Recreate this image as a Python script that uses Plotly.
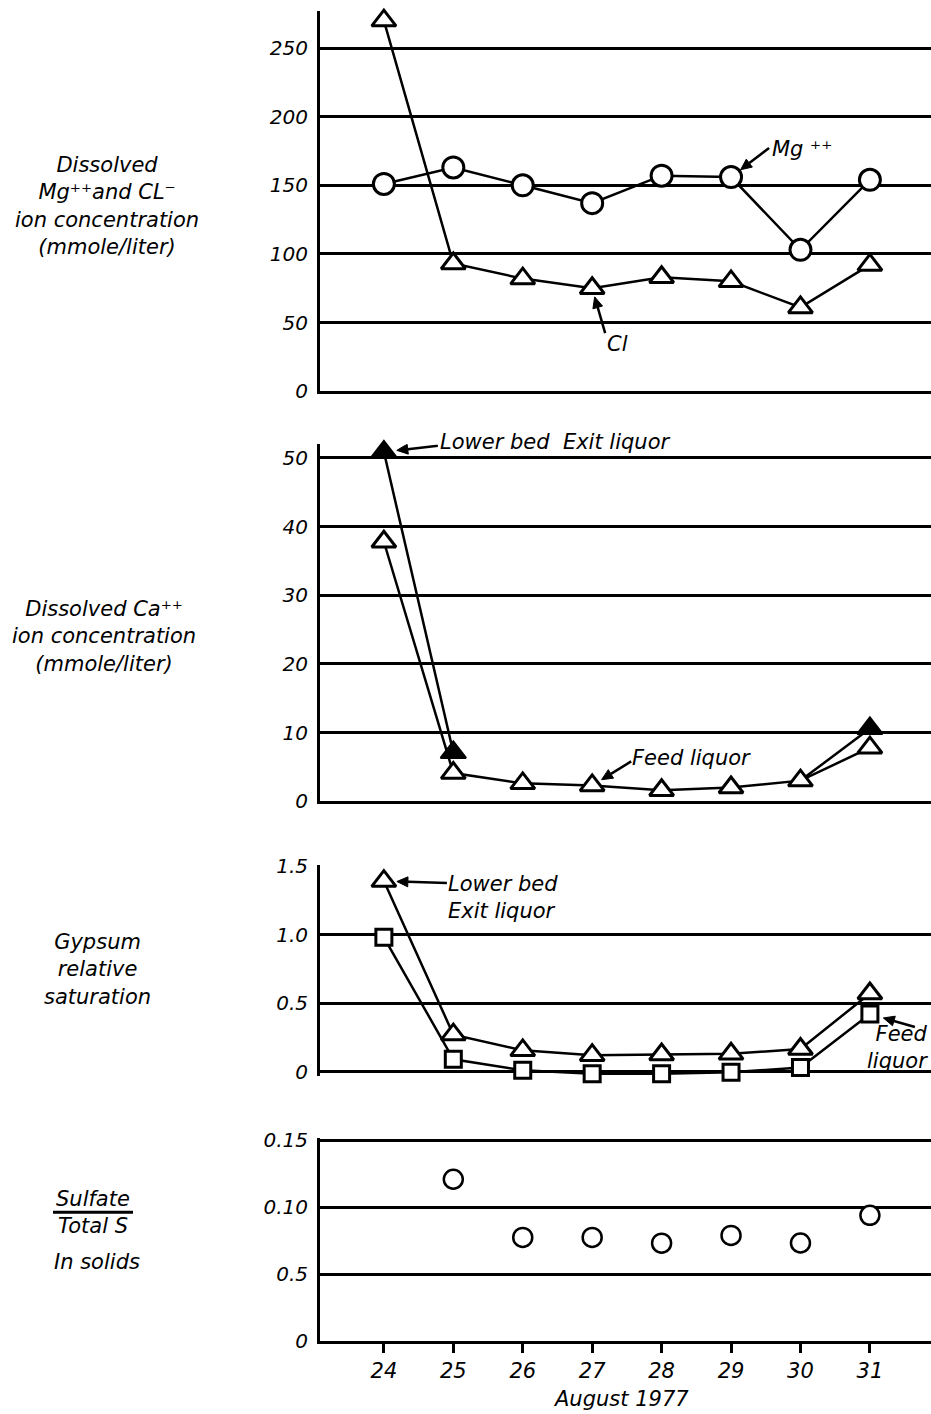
import math
import plotly.graph_objects as go

# ---------------- data ----------------
days = [24, 25, 26, 27, 28, 29, 30, 31]
day_labels = ["24", "25", "26", "27", "28", "29", "30", "31"]

mg_conc = [151, 163, 150, 137, 157, 156, 103, 154]
cl_conc = [270, 93, 82, 75, 83, 80, 61, 92]

ca_feed = [37.8, 4.1, 2.6, 2.3, 1.6, 2.0, 3.0, 7.8]
ca_exit = [50.9, 7.1, None, None, None, None, 3.0, 10.6]

gyp_exit = [1.39, 0.27, 0.155, 0.12, 0.125, 0.13, 0.165, 0.57]
gyp_feed = [0.98, 0.09, 0.01, -0.015, -0.015, -0.005, 0.03, 0.42]

sulfate_ratio = [None, 0.121, 0.0775, 0.0775, 0.0732, 0.079, 0.0733, 0.094]

p1_tickvals = [0, 50, 100, 150, 200, 250]
p1_ticktext = ["0", "50", "100", "150", "200", "250"]
p2_tickvals = [0, 10, 20, 30, 40, 50]
p2_ticktext = ["0", "10", "20", "30", "40", "50"]
p3_tickvals = [0, 0.5, 1.0, 1.5]
p3_ticktext = ["0", "0.5", "1.0", "1.5"]
p4_tickvals = [0, 0.05, 0.10, 0.15]
p4_ticktext = ["0", "0.5", "0.10", "0.15"]

# ---------------- layout geometry ----------------
W, H = 931, 1414
L, R, T, B = 320, 0, 8, 73
plot_w = W - L - R
plot_h = H - T - B
FONT = "DejaVu Sans"


def dom(top_px, bot_px):
    return [(H - B - bot_px) / plot_h, (H - B - top_px) / plot_h]


def px_x(px):
    return (px - L) / plot_w


def px_y(py):
    return (H - B - py) / plot_h


fig = go.Figure()

line_style = dict(color="black", width=2.5)


def open_marker(symbol, size):
    return dict(symbol=symbol, size=size, color="white",
                line=dict(color="black", width=3))


# Panel 1
fig.add_trace(go.Scatter(x=days, y=cl_conc, mode="lines+markers", line=line_style,
                         marker=open_marker("triangle-up", 21), cliponaxis=False,
                         xaxis="x", yaxis="y", showlegend=False))
fig.add_trace(go.Scatter(x=days, y=mg_conc, mode="lines+markers", line=line_style,
                         marker=open_marker("circle", 21), cliponaxis=False,
                         xaxis="x", yaxis="y", showlegend=False))

# Panel 2
exit_opacity = [1 if (v is not None and i != 6) else 0 for i, v in enumerate(ca_exit)]
fig.add_trace(go.Scatter(x=days, y=ca_exit, mode="lines+markers", line=line_style,
                         marker=dict(symbol="triangle-up", size=22, color="black",
                                     opacity=exit_opacity,
                                     line=dict(color="black", width=2)),
                         connectgaps=False, cliponaxis=False,
                         xaxis="x2", yaxis="y2", showlegend=False))
fig.add_trace(go.Scatter(x=days, y=ca_feed, mode="lines+markers", line=line_style,
                         marker=open_marker("triangle-up", 21), cliponaxis=False,
                         xaxis="x2", yaxis="y2", showlegend=False))

# Panel 3
fig.add_trace(go.Scatter(x=days, y=gyp_feed, mode="lines+markers", line=line_style,
                         marker=open_marker("square", 16), cliponaxis=False,
                         xaxis="x3", yaxis="y3", showlegend=False))
fig.add_trace(go.Scatter(x=days, y=gyp_exit, mode="lines+markers", line=line_style,
                         marker=open_marker("triangle-up", 21), cliponaxis=False,
                         xaxis="x3", yaxis="y3", showlegend=False))

# Panel 4
fig.add_trace(go.Scatter(x=days, y=sulfate_ratio, mode="markers",
                         marker=dict(symbol="circle", size=19, color="white",
                                     line=dict(color="black", width=2.5)),
                         cliponaxis=False, xaxis="x4", yaxis="y4", showlegend=False))

tickfont = dict(family=FONT, size=20, color="black", style="italic")
xrange = [23.08, 31.88]


def xaxis_cfg(anchor, labels, line=True):
    cfg = dict(domain=[0, 1], range=xrange, anchor=anchor, showline=line,
               linecolor="black", linewidth=3, showgrid=False, zeroline=False,
               fixedrange=True)
    if labels:
        cfg.update(tickvals=days, ticktext=day_labels, ticks="outside",
                   ticklen=9, tickwidth=2.5, tickcolor="black",
                   tickfont=dict(family=FONT, size=21, color="black", style="italic"))
    else:
        cfg.update(showticklabels=False, ticks="")
    return cfg


def yaxis_cfg(anchor, domain, rng, tv, tt):
    return dict(domain=domain, range=rng, anchor=anchor, showline=True,
                linecolor="black", linewidth=3, showgrid=True, gridcolor="black",
                gridwidth=3, zeroline=False, tickvals=tv, ticktext=tt,
                ticks="outside", ticklen=5, tickcolor="rgba(0,0,0,0)",
                tickfont=tickfont, fixedrange=True)


# panel 2: 0 at 800px, 6.88 px/unit ; panel 3: 0 at 1071px, 137.3 px/unit
p2_top = 52.0
p3_bot = -0.035
fig.update_layout(
    width=W, height=H,
    margin=dict(l=L, r=R, t=T, b=B),
    paper_bgcolor="white", plot_bgcolor="white",
    font=dict(family=FONT, color="black"),
    xaxis=xaxis_cfg("y", False),
    xaxis2=xaxis_cfg("y2", False),
    xaxis3=xaxis_cfg("y3", False, line=False),
    xaxis4=xaxis_cfg("y4", True),
    yaxis=yaxis_cfg("x", dom(8, 389), [0, 277], p1_tickvals, p1_ticktext),
    yaxis2=yaxis_cfg("x2", dom(800 - p2_top * 6.88, 800), [0, p2_top],
                     p2_tickvals, p2_ticktext),
    yaxis3=yaxis_cfg("x3", dom(864, 1071 - p3_bot * 137.3), [p3_bot, 1.507],
                     p3_tickvals, p3_ticktext),
    yaxis4=yaxis_cfg("x4", dom(1138, 1341), [0, 0.1515], p4_tickvals, p4_ticktext),
)

ann_font = dict(family=FONT, size=21, color="black", style="italic")
title_font = dict(family=FONT, size=21, color="black", style="italic")

annotations = []
shapes = []


def text_ann(text, px, py, xanchor="center", align="center", font=None):
    annotations.append(dict(text=text, x=px_x(px), y=px_y(py), xref="paper",
                            yref="paper", xanchor=xanchor, yanchor="middle",
                            align=align, showarrow=False,
                            font=font or ann_font))


def arrow(xref, yref, x, y, ax, ay, standoff, head_len=11, head_half=5):
    """Arrow from tail (ax, ay screen px offset from point) to the point,
    stopping `standoff` px short of it; drawn as pixel-sized shapes."""
    length = math.hypot(ax, ay)
    ux, uy = ax / length, ay / length          # unit vector point -> tail (screen)
    hx, hy = ux * standoff, uy * standoff      # arrow tip
    bx, by = hx + ux * head_len, hy + uy * head_len  # base centre of head
    px_, py_ = -uy, ux                          # perpendicular
    c1 = (bx + px_ * head_half, by + py_ * head_half)
    c2 = (bx - px_ * head_half, by - py_ * head_half)
    common = dict(xref=xref, yref=yref, xsizemode="pixel", ysizemode="pixel",
                  xanchor=x, yanchor=y)
    shapes.append(dict(type="line", x0=ax, y0=-ay, x1=bx, y1=-by,
                       line=dict(color="black", width=2.5), **common))
    path = "M{:.2f},{:.2f} L{:.2f},{:.2f} L{:.2f},{:.2f} Z".format(
        hx, -hy, c1[0], -c1[1], c2[0], -c2[1])
    shapes.append(dict(type="path", path=path, fillcolor="black",
                       line=dict(color="black", width=1), **common))


# Left-side titles (unicode superscripts)
text_ann("Dissolved<br>Mg⁺⁺and CL⁻<br>ion concentration<br>(mmole/liter)",
         107, 203, font=title_font)
text_ann("Dissolved Ca⁺⁺<br>ion concentration<br>(mmole/liter)",
         104, 635, font=title_font)
text_ann("Gypsum<br>relative<br>saturation", 97, 969, font=title_font)
text_ann("Sulfate", 93, 1199, font=title_font)
text_ann("Total S", 93, 1226, font=title_font)
text_ann("In solids", 97, 1262, font=title_font)

# X axis title
text_ann("August 1977", 621, 1399, font=dict(family=FONT, size=21, color="black",
                                               style="italic"))

# Panel annotations
text_ann("Mg ⁺⁺", 770, 146, xanchor="left")
arrow("x", "y", days[5], mg_conc[5], 38, -29, 12)

text_ann("Cl", 617, 342)
arrow("x", "y", days[3], cl_conc[3], 13, 45, 9)

text_ann("Lower bed  Exit liquor", 438, 440, xanchor="left")
arrow("x2", "y2", days[0], ca_exit[0], 54, -6, 13)

text_ann("Feed liquor", 630, 757, xanchor="left")
arrow("x2", "y2", days[3], ca_feed[3], 39, -24, 11)

text_ann("Lower bed<br>Exit liquor", 446, 897, xanchor="left", align="left")
arrow("x3", "y3", days[0], gyp_exit[0], 63, 2, 13)

text_ann("Feed<br>liquor", 930, 1047, xanchor="right", align="right")
arrow("x3", "y3", days[7], gyp_feed[7], 45, 13, 14)

# Fraction bar for Sulfate / Total S
shapes.append(dict(type="line", xref="paper", yref="paper",
                   x0=px_x(53), x1=px_x(133), y0=px_y(1212), y1=px_y(1212),
                   line=dict(color="black", width=3)))

fig.update_layout(annotations=annotations, shapes=shapes)

fig.write_html("out.html")
